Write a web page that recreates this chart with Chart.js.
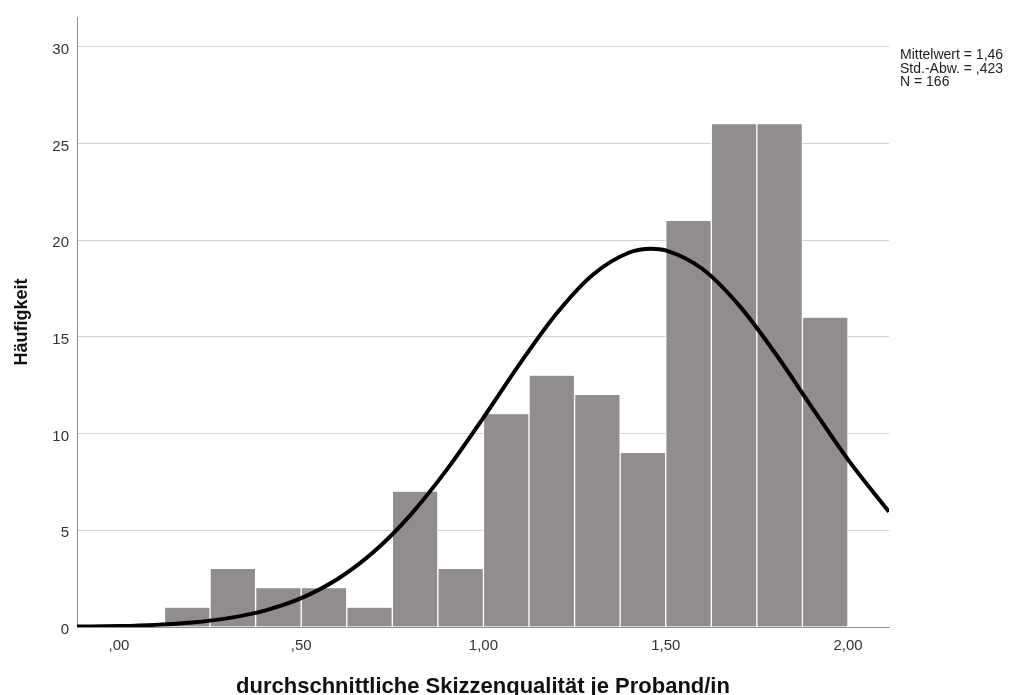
<!DOCTYPE html>
<html>
<head>
<meta charset="utf-8">
<script src="https://cdn.jsdelivr.net/npm/chart.js@4.4.1/dist/chart.umd.min.js"></script>
<style>
  html, body { margin: 0; padding: 0; background: #ffffff; }
  canvas { display: block; }
</style>
</head>
<body>
<canvas id="histogram" width="1017" height="695"></canvas>
<script>
// Histogram bins (lower edges) and their frequencies
const binWidth = 0.125;
const binStarts = [0.125, 0.25, 0.375, 0.5, 0.625, 0.75, 0.875, 1.0, 1.125, 1.25, 1.375, 1.5, 1.625, 1.75, 1.875];
const counts = [1, 3, 2, 2, 1, 7, 3, 11, 13, 12, 9, 21, 26, 26, 16];

// Fitted normal curve, sampled along the x axis
const curveX = [-0.115, 0, 0.1, 0.2, 0.3, 0.4, 0.5, 0.6, 0.7, 0.8, 0.9, 1.0, 1.1, 1.2, 1.3, 1.4, 1.46, 1.5, 1.6, 1.7, 1.8, 1.9, 2.0, 2.1125];
const curveY = [0.02, 0.05, 0.11, 0.23, 0.46, 0.85, 1.49, 2.48, 3.90, 5.80, 8.15, 10.83, 13.62, 16.20, 18.22, 19.37, 19.57, 19.48, 18.53, 16.66, 14.17, 11.39, 8.66, 5.96];

// Axis ticks and texts
const xTickValues = [0, 0.5, 1, 1.5, 2];
const xTickLabels = [",00", ",50", "1,00", "1,50", "2,00"];
const yTickValues = [0, 5, 10, 15, 20, 25, 30];
const xTitle = "durchschnittliche Skizzenqualität je Proband/in";
const yTitle = "Häufigkeit";
const statsLines = ["Mittelwert = 1,46", "Std.-Abw. = ,423", "N = 166"];

const FONT = '"Liberation Sans", Arial, Helvetica, sans-serif';

// Summary statistics printed to the right of the plot
const statsBox = {
  id: 'statsBox',
  afterDraw(chart) {
    const { ctx, chartArea } = chart;
    ctx.save();
    ctx.font = '14px ' + FONT;
    ctx.fillStyle = '#222222';
    ctx.textAlign = 'left';
    ctx.textBaseline = 'alphabetic';
    statsLines.forEach((line, i) => {
      ctx.fillText(line, chartArea.right + 11, chartArea.top + 42 + i * 13.6);
    });
    ctx.restore();
  }
};

new Chart(document.getElementById('histogram'), {
  type: 'bar',
  data: {
    datasets: [
      {
        type: 'line',
        order: 0,
        data: curveX.map((x, i) => ({ x: x, y: curveY[i] })),
        borderColor: '#000000',
        borderWidth: 4,
        pointRadius: 0,
        fill: false,
        cubicInterpolationMode: 'monotone'
      },
      {
        type: 'bar',
        order: 1,
        data: binStarts.map((s, i) => ({ x: s + binWidth / 2, y: counts[i] })),
        backgroundColor: '#918d8c',
        borderColor: '#ffffff',
        borderWidth: { left: 1, right: 1, top: 0, bottom: 0 },
        borderSkipped: false,
        barPercentage: 1,
        categoryPercentage: 1,
        grouped: false
      }
    ]
  },
  options: {
    responsive: false,
    devicePixelRatio: 1,
    animation: false,
    layout: { padding: { left: 0, top: 15, right: 128, bottom: 0 } },
    plugins: {
      legend: { display: false },
      tooltip: { enabled: false }
    },
    scales: {
      x: {
        type: 'linear',
        min: -0.115,
        max: 2.1125,
        offset: false,
        grid: { display: false, drawTicks: false },
        border: { display: true, color: '#8f8f8f', width: 1 },
        afterBuildTicks: (scale) => { scale.ticks = xTickValues.map(v => ({ value: v })); },
        afterFit: (scale) => { scale.height = 68; },
        ticks: {
          padding: 10,
          autoSkip: false,
          maxRotation: 0,
          color: '#333333',
          font: { family: FONT, size: 15 },
          callback: (value, index) => xTickLabels[index]
        },
        title: {
          display: true,
          text: xTitle,
          color: '#111111',
          font: { family: FONT, size: 22, weight: 'bold', lineHeight: '16px' },
          padding: 0
        }
      },
      y: {
        type: 'linear',
        min: 0,
        max: 31.55,
        grid: { color: '#d2d2d2', lineWidth: 1, drawTicks: false },
        border: { display: true, color: '#8f8f8f', width: 1 },
        afterBuildTicks: (scale) => { scale.ticks = yTickValues.map(v => ({ value: v })); },
        afterFit: (scale) => { scale.width = 77; },
        ticks: {
          padding: 8,
          labelOffset: 3,
          color: '#333333',
          font: { family: FONT, size: 15 }
        },
        title: {
          display: true,
          text: yTitle,
          color: '#111111',
          font: { family: FONT, size: 18, weight: 'bold' },
          padding: { top: 11, bottom: 0 }
        }
      }
    }
  },
  plugins: [statsBox]
});
</script>
</body>
</html>
